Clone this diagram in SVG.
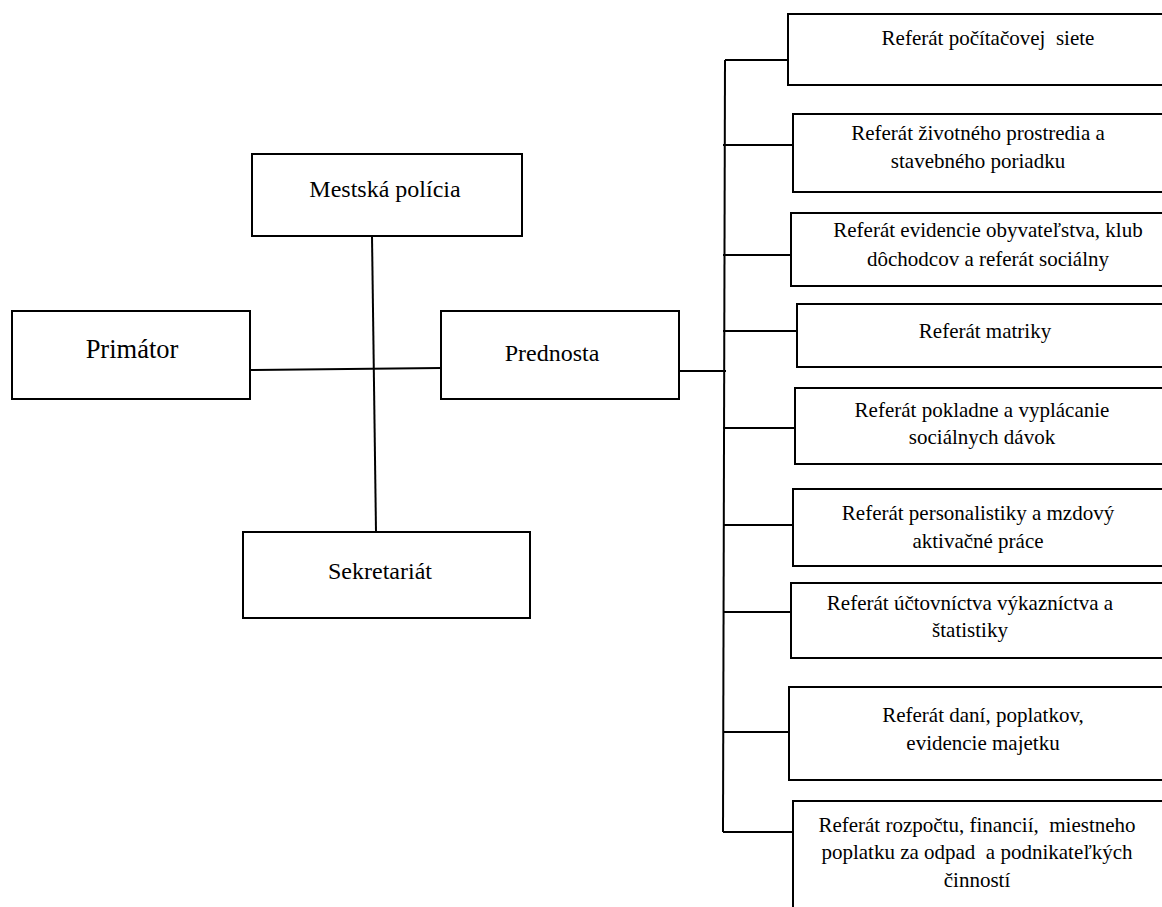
<svg xmlns="http://www.w3.org/2000/svg" width="1162" height="907" viewBox="0 0 1162 907">
<style>
rect{fill:#fff;stroke:#000;stroke-width:2}
.c line{stroke:#000;stroke-width:2;fill:none}
text{font-family:"Liberation Serif","Times New Roman",serif;fill:#000;text-anchor:middle}
.r{font-size:21px}
.l{font-size:24px}
</style>
<rect x="0" y="0" width="1162" height="907" style="stroke:none"/>
<g class="c" id="connectors">
<line x1="372" y1="236" x2="376" y2="532"/>
<line x1="250" y1="370" x2="441" y2="368"/>
<line x1="679" y1="371" x2="726" y2="371"/>
<line x1="725" y1="60" x2="723" y2="832"/>
<line x1="725" y1="60" x2="788" y2="60"/>
<line x1="723" y1="145" x2="796" y2="145"/>
<line x1="723" y1="255" x2="791" y2="255"/>
<line x1="723" y1="331" x2="797" y2="331"/>
<line x1="723" y1="428" x2="795" y2="428"/>
<line x1="723" y1="525" x2="795" y2="525"/>
<line x1="723" y1="612" x2="793" y2="612"/>
<line x1="723" y1="732" x2="791" y2="732"/>
<line x1="723" y1="832" x2="793" y2="832"/>
</g>
<g id="mestska">
<rect x="252" y="154" width="270" height="82"/>
<text class="l" x="385" y="197">Mestská polícia</text>
</g>
<g id="primator">
<rect x="12" y="311" width="238" height="88"/>
<text x="132" y="358" style="font-size:26.5px">Primátor</text>
</g>
<g id="prednosta">
<rect x="441" y="311" width="238" height="88"/>
<text class="l" x="552" y="361">Prednosta</text>
</g>
<g id="sekretariat">
<rect x="243" y="532" width="287" height="86"/>
<text class="l" x="380" y="579">Sekretariát</text>
</g>
<g id="r1">
<rect x="788" y="14" width="380" height="71"/>
<text class="r" x="988" y="45" xml:space="preserve">Referát počítačovej  siete</text>
</g>
<g id="r2">
<rect x="793" y="114" width="380" height="78"/>
<text class="r" x="978" y="140">Referát životného prostredia a</text>
<text class="r" x="978" y="168">stavebného poriadku</text>
</g>
<g id="r3">
<rect x="791" y="213" width="380" height="73"/>
<text class="r" x="988" y="237">Referát evidencie obyvateľstva, klub</text>
<text class="r" x="988" y="266">dôchodcov a referát sociálny</text>
</g>
<g id="r4">
<rect x="797" y="304" width="380" height="63"/>
<text class="r" x="985" y="338">Referát matriky</text>
</g>
<g id="r5">
<rect x="795" y="388" width="380" height="76"/>
<text class="r" x="982" y="417">Referát pokladne a vyplácanie</text>
<text class="r" x="982" y="444">sociálnych dávok</text>
</g>
<g id="r6">
<rect x="793" y="489" width="380" height="77"/>
<text class="r" x="978" y="520">Referát personalistiky a mzdový</text>
<text class="r" x="978" y="548">aktivačné práce</text>
</g>
<g id="r7">
<rect x="791" y="583" width="380" height="75"/>
<text class="r" x="970" y="610">Referát účtovníctva výkazníctva a</text>
<text class="r" x="970" y="637">štatistiky</text>
</g>
<g id="r8">
<rect x="789" y="687" width="380" height="93"/>
<text class="r" x="983" y="722">Referát daní, poplatkov,</text>
<text class="r" x="983" y="750">evidencie majetku</text>
</g>
<g id="r9">
<rect x="793" y="801" width="380" height="130"/>
<text class="r" x="977" y="832" xml:space="preserve">Referát rozpočtu, financií,  miestneho</text>
<text class="r" x="977" y="859" xml:space="preserve">poplatku za odpad  a podnikateľkých</text>
<text class="r" x="977" y="887">činností</text>
</g>
</svg>
